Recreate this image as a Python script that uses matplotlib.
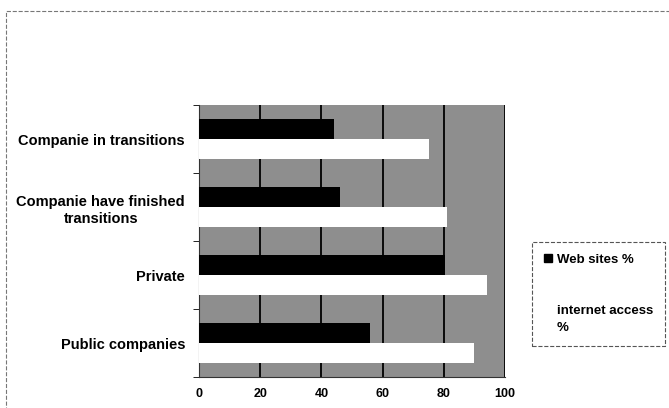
import matplotlib.pyplot as plt
from matplotlib.patches import Patch, Rectangle
import numpy as np

# ===============================
# Data
# ===============================
categories = ["Public companies", "Private",
              "Companie have finished\ntransitions", "Companie in transitions"]
web_sites = [56, 80.5, 46, 44]
internet_access = [90, 94, 81, 75]
x_ticks = [0, 20, 40, 60, 80, 100]

plt.rcParams['font.family'] = ['Liberation Sans', 'DejaVu Sans']
plt.rcParams['font.weight'] = 'bold'

# ===============================
# Figure / axes
# ===============================
fig = plt.figure(figsize=(6.69, 4.08), dpi=100)
ax = fig.add_axes([199 / 669, 1 - 377 / 408, 306 / 669, 272 / 408])
ax.set_facecolor('#8e8e8e')

y = np.arange(len(categories))
h = 0.29
ax.barh(y + h / 2 + 0.005, web_sites, height=h, color='black', zorder=3)
ax.barh(y - h / 2 - 0.005, internet_access, height=h, color='white', zorder=3)

ax.set_xlim(0, 100)
ax.set_ylim(-0.5, len(categories) - 0.5)
ax.set_xticks(x_ticks)
ax.set_xticklabels([str(t) for t in x_ticks], fontsize=9, fontweight='bold')
ax.tick_params(axis='x', length=0, pad=8)
ax.xaxis.grid(True, color='black', linewidth=1.3, zorder=1)
ax.set_axisbelow(True)

# category labels
ax.set_yticks(y)
ax.set_yticklabels(categories, fontsize=10.5, fontweight='bold',
                   multialignment='center', linespacing=1.3)
ax.tick_params(axis='y', length=0, pad=10)

# minor ticks at band boundaries
ax.set_yticks(np.arange(-0.5, len(categories), 1), minor=True)
ax.tick_params(axis='y', which='minor', length=4, color='black')

for s in ['top', 'right']:
    ax.spines[s].set_visible(False)
ax.spines['left'].set_color('#333333')
ax.spines['bottom'].set_color('#333333')

# ===============================
# Legend
# ===============================
handles = [Patch(facecolor='black', edgecolor='black'),
           Patch(facecolor='white', edgecolor='white')]
leg = fig.legend(handles, ["Web sites %", "internet access\n%"],
                 loc='upper left', bbox_to_anchor=(532 / 669, 1 - 242 / 408),
                 prop={'size': 9.5, 'weight': 'bold'}, labelspacing=3.0,
                 handlelength=0.6, handleheight=0.6, handletextpad=0.4,
                 borderpad=0.9, borderaxespad=0, fancybox=False, framealpha=1)
for t in leg.get_texts():
    t.set_linespacing(1.5)
leg.get_frame().set_edgecolor('#555555')
leg.get_frame().set_linestyle('--')
leg.get_frame().set_linewidth(0.8)

# outer chart border
fig.patches.append(Rectangle((6 / 669, -0.05), 0.995, 1 - 11 / 408 + 0.05,
                             transform=fig.transFigure, fill=False,
                             edgecolor='#777777', linestyle='--', linewidth=0.8))

fig.savefig('out.png', dpi=100)
